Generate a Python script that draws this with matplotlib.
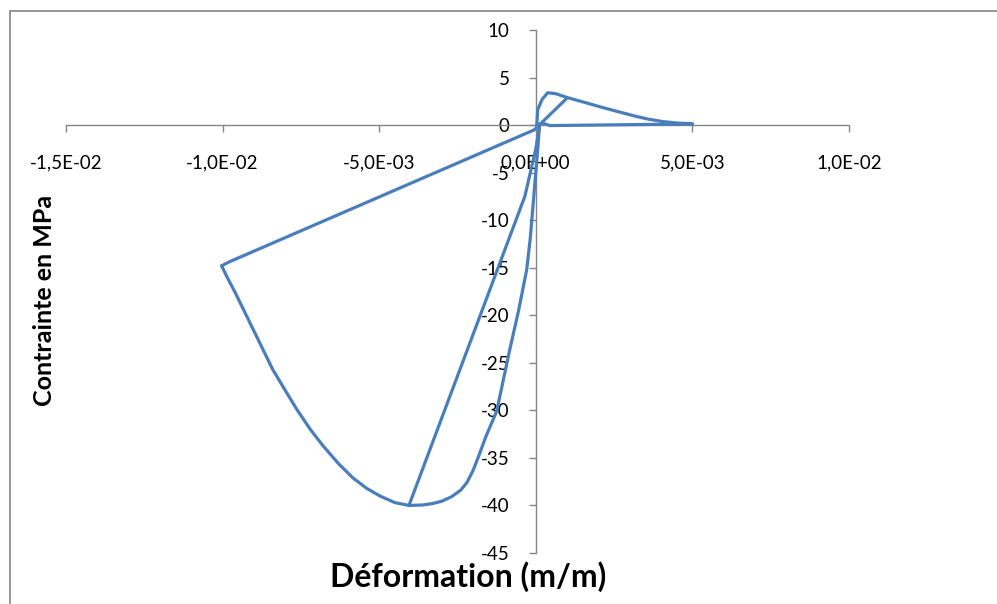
import matplotlib
matplotlib.use("Agg")
import matplotlib.pyplot as plt
from matplotlib.ticker import FixedLocator, FixedFormatter

# Données (déformation en m/m, contrainte en MPa)
# enveloppe en compression : origine -> pic -> branche descendante
eps_comp = [0.00012, 0.00005, -0.0001, -0.00018, -0.00029, -0.00055, -0.00083,
            -0.00105, -0.00125, -0.0016, -0.0018, -0.002, -0.0022, -0.0024,
            -0.0027, -0.003, -0.0033, -0.0036, -0.00405, -0.0045, -0.00498,
            -0.0054, -0.00584, -0.0063, -0.0068, -0.0072, -0.00763, -0.0080,
            -0.0084, -0.0088, -0.00923, -0.0096, -0.00987, -0.01003]
sig_comp = [0, -3, -8.9, -12, -15.2, -19.5, -23.6,
            -27, -30.1, -32.8, -34.6, -36.3, -37.6, -38.4,
            -39.1, -39.55, -39.8, -39.95, -40, -39.7, -39.0,
            -38.2, -37.1, -35.6, -33.7, -32.0, -29.9, -27.9,
            -25.7, -23.0, -20.1, -17.6, -15.9, -14.8]

# déchargement depuis la branche descendante puis rechargement en traction
eps_dech = [-0.01003, -0.0098, -0.00005, 0.001]
sig_dech = [-14.8, -14.4, -0.5, 2.85]

# enveloppe en traction (pic puis adoucissement)
eps_trac = [0.00003, 0.00006, 0.0002, 0.00038, 0.0005, 0.00064, 0.001,
            0.0016, 0.00214, 0.0027, 0.00322, 0.0036, 0.00405, 0.0045,
            0.0049, 0.005]
sig_trac = [-0.15, 1.6, 2.7, 3.4, 3.35, 3.3, 2.9,
            2.35, 1.84, 1.35, 0.9, 0.62, 0.37, 0.22,
            0.16, 0.12]

# retour depuis la traction puis rechargement jusqu'au pic de compression
eps_ret = [0.005, 0.00045, 0.00022, 0.00013, 0.0, -0.00035, -0.00405]
sig_ret = [0.12, -0.05, 0.2, 0.15, -2.5, -7.5, -40]

xticks = [-0.015, -0.010, -0.005, 0.0, 0.005, 0.010]
xlabels = ["-1,5E-02", "-1,0E-02", "-5,0E-03", "0,0E+00", "5,0E-03", "1,0E-02"]
yticks = [10, 5, 0, -5, -10, -15, -20, -25, -30, -35, -40, -45]

couleur = "#4A7EBB"
gris = "#868686"
plt.rcParams["font.family"] = ["Lato", "DejaVu Sans"]

fig = plt.figure(figsize=(9.97, 6.04), dpi=100)
ax = fig.add_axes([66 / 997, 1 - 553 / 604, (849 - 66) / 997, (553 - 30) / 604])

for x, y in [(eps_comp, sig_comp), (eps_dech, sig_dech),
             (eps_trac, sig_trac), (eps_ret, sig_ret)]:
    ax.plot(x, y, color=couleur, lw=2.3, solid_joinstyle="round",
            solid_capstyle="round", zorder=3)

ax.set_xlim(-0.015, 0.010)
ax.set_ylim(-45, 10)

# axes qui se croisent à l'origine (style Excel)
ax.spines["left"].set_position(("data", 0))
ax.spines["bottom"].set_position(("data", 0))
ax.spines["top"].set_visible(False)
ax.spines["right"].set_visible(False)
for s in ["left", "bottom"]:
    ax.spines[s].set_color(gris)
    ax.spines[s].set_linewidth(1)

ax.xaxis.set_major_locator(FixedLocator(xticks))
ax.xaxis.set_major_formatter(FixedFormatter(xlabels))
ax.set_yticks(yticks)
ax.set_yticklabels([str(v) for v in yticks])
ax.tick_params(axis="x", direction="out", length=5, width=1, color=gris,
               labelsize=13.5, pad=16)
ax.tick_params(axis="y", direction="out", length=5, width=1, color=gris,
               labelsize=13.5, pad=14)
ax.patch.set_alpha(0)

fig.text(468 / 997, 1 - 577 / 604, "Déformation (m/m)", fontsize=23,
         fontweight="bold", ha="center", va="center")
fig.text(45 / 997, 1 - 300 / 604, "Contrainte en MPa", fontsize=18,
         fontweight="bold", ha="center", va="center", rotation=90)

# cadre de la zone de graphique
cadre = plt.Rectangle((10 / 997, -0.05), 1.2, 1 - 11 / 604 + 0.05,
                      transform=fig.transFigure, fill=False,
                      edgecolor=gris, lw=1.2)
fig.patches.append(cadre)

fig.savefig("out.png", dpi=100)
